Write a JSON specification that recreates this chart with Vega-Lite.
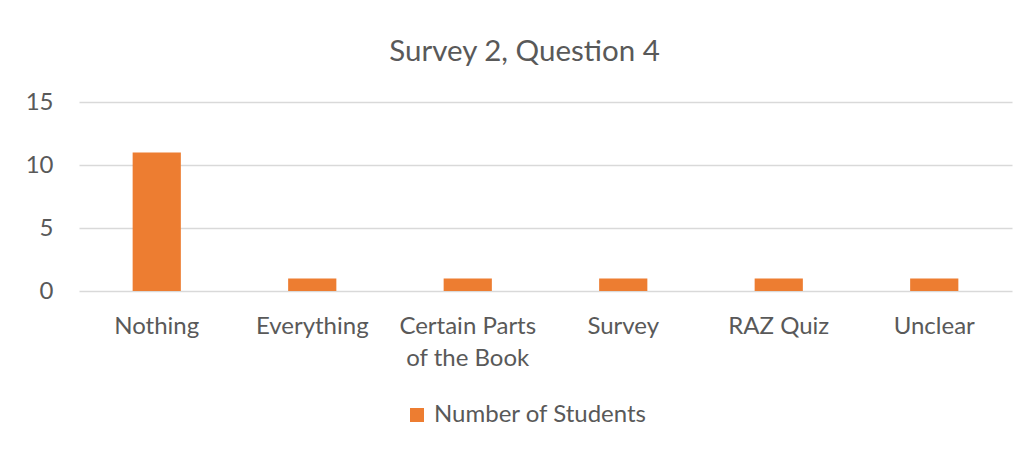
{
  "$schema": "https://vega.github.io/schema/vega-lite/v6.json",
  "width": 933,
  "height": 189,
  "autosize": {"type": "none"},
  "padding": {"left": 79, "top": 102, "right": 16, "bottom": 158},
  "background": "white",
  "title": {
    "text": "Survey 2, Question 4",
    "anchor": "middle",
    "frame": "group",
    "dx": -21,
    "offset": 23,
    "font": "Lato",
    "fontSize": 29.5,
    "fontWeight": "normal",
    "color": "#595959"
  },
  "data": {
    "values": [
      {"response": "Nothing", "students": 11},
      {"response": "Everything", "students": 1},
      {"response": "Certain Parts of the Book", "students": 1},
      {"response": "Survey", "students": 1},
      {"response": "RAZ Quiz", "students": 1},
      {"response": "Unclear", "students": 1}
    ]
  },
  "mark": {"type": "bar"},
  "encoding": {
    "x": {
      "field": "response",
      "type": "nominal",
      "sort": null,
      "title": null,
      "scale": {"paddingInner": 0.69, "paddingOuter": 0.345},
      "axis": {
        "labelAngle": 0,
        "labelFont": "Lato",
        "labelFontSize": 24,
        "labelColor": "#595959",
        "labelPadding": 23,
        "labelLineHeight": 32,
        "labelExpr": "datum.label == 'Certain Parts of the Book' ? ['Certain Parts', 'of the Book'] : datum.label",
        "ticks": false,
        "domain": false,
        "grid": false
      }
    },
    "y": {
      "field": "students",
      "type": "quantitative",
      "title": null,
      "scale": {"domain": [0, 15]},
      "axis": {
        "values": [0, 5, 10, 15],
        "labelFont": "Lato",
        "labelFontSize": 24,
        "labelColor": "#595959",
        "labelPadding": 26,
        "ticks": false,
        "domain": false,
        "grid": true,
        "gridColor": "#D9D9D9",
        "gridWidth": 1.5
      }
    },
    "color": {
      "datum": "Number of Students",
      "type": "nominal",
      "scale": {"range": ["#ED7D31"]},
      "legend": {
        "title": null,
        "orient": "none",
        "legendX": 326,
        "legendY": 301,
        "symbolType": "square",
        "symbolSize": 196,
        "symbolStrokeWidth": 0,
        "labelFont": "Lato",
        "labelFontSize": 24,
        "labelColor": "#595959",
        "labelOffset": 5,
        "labelLimit": 0
      }
    }
  },
  "config": {"view": {"stroke": null}}
}
